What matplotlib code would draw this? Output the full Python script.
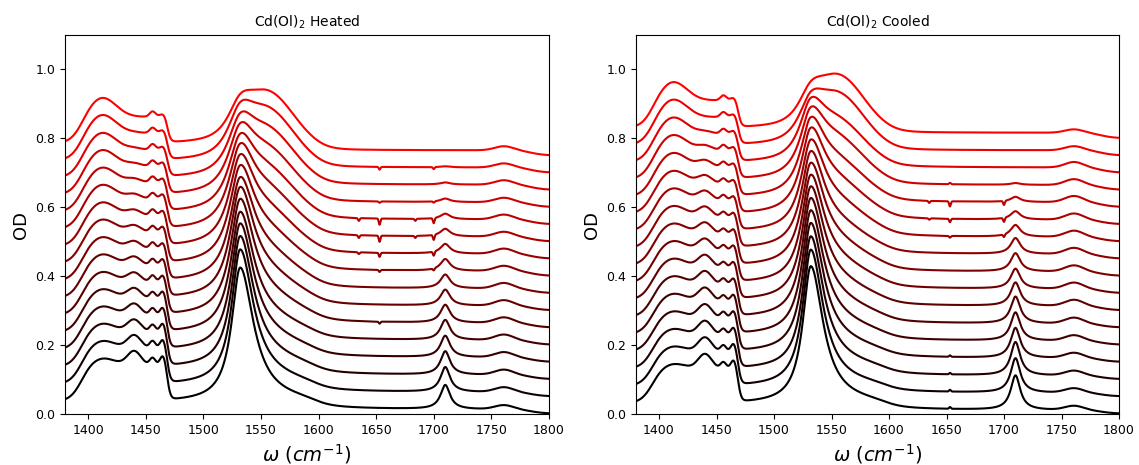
import numpy as np
import matplotlib
matplotlib.use("Agg")
import matplotlib.pyplot as plt

# ---------------------------------------------------------------------------
# FTIR spectra of Cd(Ol)2, stacked with a constant vertical offset.
# Each spectrum is described by the amplitudes (OD) of its absorption bands,
# listed from the bottom (black) trace to the top (red) trace.
# ---------------------------------------------------------------------------
wavenumber_min, wavenumber_max = 1380, 1800
offset_step = 0.05

# ---- heated series (16 spectra) ----
heated_background = [0.035, 0.035, 0.035, 0.035, 0.035, 0.035, 0.035, 0.035,
                     0.035, 0.035, 0.035, 0.035, 0.035, 0.035, 0.035, 0.035]
heated_plateau = [0.100, 0.099, 0.097, 0.095, 0.093, 0.091, 0.090, 0.088,
                  0.087, 0.085, 0.084, 0.082, 0.080, 0.078, 0.077, 0.075]
heated_band1410 = [0.026, 0.028, 0.030, 0.032, 0.034, 0.036, 0.038, 0.040,
                   0.042, 0.044, 0.046, 0.048, 0.051, 0.053, 0.056, 0.058]
heated_band1440 = [0.043, 0.040, 0.037, 0.035, 0.032, 0.029, 0.026, 0.023,
                   0.020, 0.017, 0.014, 0.011, 0.008, 0.005, 0.002, 0.000]
heated_band1456 = [0.022, 0.022, 0.021, 0.021, 0.020, 0.020, 0.019, 0.019,
                   0.018, 0.018, 0.017, 0.017, 0.016, 0.016, 0.015, 0.015]
heated_band1465 = [0.030, 0.028, 0.027, 0.025, 0.024, 0.022, 0.021, 0.019,
                   0.018, 0.016, 0.015, 0.013, 0.012, 0.010, 0.009, 0.008]
heated_band1532 = [0.390, 0.391, 0.378, 0.363, 0.345, 0.329, 0.310, 0.285,
                   0.266, 0.244, 0.222, 0.197, 0.174, 0.150, 0.128, 0.100]
heated_hwhm_low = [9.0, 9.0, 9.3, 9.6, 10.0, 10.3, 10.6, 11.0,
                   11.4, 11.8, 12.2, 12.6, 13.0, 13.4, 13.8, 14.0]
heated_hwhm_high = [14.0, 14.0, 14.1, 14.3, 14.4, 14.6, 14.7, 14.9,
                    15.0, 15.2, 15.3, 15.5, 15.6, 15.8, 15.9, 16.0]
heated_band1558 = [0.000, 0.005, 0.010, 0.015, 0.020, 0.030, 0.040, 0.050,
                   0.060, 0.070, 0.080, 0.090, 0.100, 0.110, 0.120, 0.125]
heated_flat = [0.012, 0.012, 0.012, 0.013, 0.013, 0.013, 0.013, 0.013,
               0.014, 0.014, 0.014, 0.014, 0.014, 0.015, 0.015, 0.015]
heated_band1710 = [0.070, 0.072, 0.068, 0.062, 0.058, 0.052, 0.046, 0.040,
                   0.034, 0.028, 0.022, 0.016, 0.010, 0.006, 0.003, 0.000]
heated_band1760 = [0.012, 0.014, 0.015, 0.015, 0.016, 0.016, 0.016, 0.016,
                   0.015, 0.015, 0.014, 0.014, 0.013, 0.013, 0.012, 0.012]
heated_vapour1635 = [0, 0, 0, 0, 0, 0, 0, 0,
                     0, -0.005, -0.008, -0.008, 0, 0, 0, 0]
heated_vapour1653 = [0, 0, 0, 0, 0, -0.006, 0, 0,
                     -0.006, -0.012, -0.018, -0.018, -0.004, 0, -0.008, 0]
heated_vapour1684 = [0, 0, 0, 0, 0, 0, 0, 0,
                     0, 0, -0.006, -0.006, 0, 0, 0, 0]
heated_vapour1700 = [0, 0, 0, 0, 0, 0, 0, 0,
                     -0.006, -0.012, -0.015, -0.015, -0.004, 0, -0.006, 0]

# ---- cooled series (17 spectra) ----
cooled_background = [0.030, 0.030, 0.030, 0.030, 0.030, 0.030, 0.030, 0.030, 0.030,
                     0.030, 0.030, 0.030, 0.030, 0.030, 0.030, 0.030, 0.030]
cooled_plateau = [0.095, 0.094, 0.093, 0.092, 0.091, 0.090, 0.089, 0.088, 0.087,
                  0.086, 0.085, 0.084, 0.083, 0.082, 0.080, 0.079, 0.078]
cooled_band1410 = [0.020, 0.022, 0.024, 0.026, 0.028, 0.030, 0.032, 0.034, 0.036,
                   0.038, 0.040, 0.042, 0.045, 0.048, 0.051, 0.054, 0.056]
cooled_band1440 = [0.045, 0.044, 0.043, 0.042, 0.041, 0.040, 0.038, 0.036, 0.034,
                   0.031, 0.028, 0.024, 0.019, 0.013, 0.007, 0.000, 0.000]
cooled_band1456 = [0.020, 0.020, 0.019, 0.019, 0.018, 0.018, 0.017, 0.017, 0.016,
                   0.016, 0.016, 0.015, 0.015, 0.015, 0.014, 0.014, 0.014]
cooled_band1465 = [0.028, 0.027, 0.025, 0.024, 0.023, 0.021, 0.020, 0.019, 0.017,
                   0.016, 0.015, 0.013, 0.012, 0.011, 0.010, 0.009, 0.008]
cooled_band1532 = [0.399, 0.397, 0.384, 0.371, 0.356, 0.340, 0.322, 0.304, 0.287,
                   0.269, 0.249, 0.230, 0.207, 0.181, 0.156, 0.113, 0.090]
cooled_hwhm_low = [8.5, 8.5, 8.6, 8.8, 9.0, 9.2, 9.4, 9.6, 9.8,
                   10.0, 10.3, 10.6, 11.0, 11.5, 12.0, 13.5, 14.0]
cooled_hwhm_high = [13.0, 13.0, 13.2, 13.4, 13.6, 13.8, 14.0, 14.2, 14.4,
                    14.6, 14.8, 15.0, 15.2, 15.5, 15.8, 16.0, 16.0]
cooled_band1558 = [0.000, 0.000, 0.005, 0.010, 0.015, 0.020, 0.025, 0.030, 0.035,
                   0.040, 0.050, 0.060, 0.070, 0.085, 0.090, 0.122, 0.130]
cooled_flat = [0.010, 0.010, 0.010, 0.011, 0.011, 0.011, 0.012, 0.012, 0.012,
               0.013, 0.013, 0.013, 0.014, 0.014, 0.015, 0.015, 0.016]
cooled_band1710 = [0.100, 0.100, 0.097, 0.087, 0.082, 0.078, 0.068, 0.058, 0.053,
                   0.046, 0.034, 0.024, 0.015, 0.005, 0.000, 0.000, 0.000]
cooled_band1760 = [0.012, 0.013, 0.014, 0.015, 0.016, 0.017, 0.018, 0.018, 0.018,
                   0.018, 0.018, 0.018, 0.018, 0.017, 0.016, 0.012, 0.010]
cooled_vapour1635 = [0, 0, 0, 0, 0, 0, 0, 0, 0,
                     0, 0, -0.004, -0.006, 0, 0, 0, 0]
cooled_vapour1653 = [0.005, 0.005, 0.004, 0.004, 0, 0, 0, 0, 0,
                     0, -0.005, -0.010, -0.015, 0.004, 0, 0, 0]
cooled_vapour1684 = [0, 0, 0, 0, 0, 0, 0, 0, 0,
                     0, 0, 0, 0, 0, 0, 0, 0]
cooled_vapour1700 = [0, 0, 0, 0, 0, 0, 0, 0, 0,
                     0, -0.008, -0.012, -0.012, 0, 0, 0, 0]

panel_titles = [r"Cd(Ol)$_2$ Heated", r"Cd(Ol)$_2$ Cooled"]
x_label = r"$\omega$ $(cm^{-1})$"
y_label = "OD"
x_ticks = [1400, 1450, 1500, 1550, 1600, 1650, 1700, 1750, 1800]
y_ticks = [0.0, 0.2, 0.4, 0.6, 0.8, 1.0]


def sigmoid(z):
    return 1.0 / (1.0 + np.exp(-z))


def gauss(x, centre, sigma):
    return np.exp(-0.5 * ((x - centre) / sigma) ** 2)


def lorentz(x, centre, hwhm):
    return 1.0 / (1.0 + ((x - centre) / hwhm) ** 2)


def split_lorentz(x, centre, hwhm_low, hwhm_high):
    hwhm = np.where(x < centre, hwhm_low, hwhm_high)
    return 1.0 / (1.0 + ((x - centre) / hwhm) ** 2)


def split_gauss(x, centre, sigma_low, sigma_high):
    sigma = np.where(x < centre, sigma_low, sigma_high)
    return np.exp(-0.5 * ((x - centre) / sigma) ** 2)


def build_spectrum(x, k, s):
    """Sum of the baseline and absorption bands of spectrum k of series s."""
    flat = s["flat"][k]
    y = flat * sigmoid((1785 - x) / 6.0)
    y += (s["background"][k] - flat) * sigmoid((1597 - x) / 7.0)
    y += s["plateau"][k] * sigmoid((x - 1394) / 5.0) * sigmoid((1469.0 - x) / 1.4)
    y += s["band1410"][k] * gauss(x, 1412, 12)
    y += s["band1440"][k] * gauss(x, 1440, 6)
    y += s["band1456"][k] * gauss(x, 1456, 2.5)
    y += s["band1465"][k] * gauss(x, 1465, 2.5)
    y += s["band1532"][k] * split_lorentz(x, 1532, s["hwhm_low"][k], s["hwhm_high"][k])
    y += s["band1558"][k] * split_gauss(x, 1558, 18, 20)
    y += s["band1710"][k] * lorentz(x, 1710, 5)
    y += s["band1760"][k] * gauss(x, 1761, 8)
    for pos, key in ((1635, "v1635"), (1653, "v1653"), (1684, "v1684"), (1700, "v1700")):
        y += s[key][k] * gauss(x, pos, 0.7)
    return y


heated = dict(background=heated_background, plateau=heated_plateau,
              band1410=heated_band1410, band1440=heated_band1440,
              band1456=heated_band1456, band1465=heated_band1465,
              band1532=heated_band1532, hwhm_low=heated_hwhm_low,
              hwhm_high=heated_hwhm_high, band1558=heated_band1558,
              flat=heated_flat, band1710=heated_band1710, band1760=heated_band1760,
              v1635=heated_vapour1635, v1653=heated_vapour1653,
              v1684=heated_vapour1684, v1700=heated_vapour1700)
cooled = dict(background=cooled_background, plateau=cooled_plateau,
              band1410=cooled_band1410, band1440=cooled_band1440,
              band1456=cooled_band1456, band1465=cooled_band1465,
              band1532=cooled_band1532, hwhm_low=cooled_hwhm_low,
              hwhm_high=cooled_hwhm_high, band1558=cooled_band1558,
              flat=cooled_flat, band1710=cooled_band1710, band1760=cooled_band1760,
              v1635=cooled_vapour1635, v1653=cooled_vapour1653,
              v1684=cooled_vapour1684, v1700=cooled_vapour1700)

wavenumber = np.arange(wavenumber_min, wavenumber_max + 0.01, 0.25)

fig = plt.figure(figsize=(11.39, 4.65), dpi=100)
ax_left = fig.add_axes([65 / 1139, 1 - 414 / 465, 484 / 1139, 379 / 465])
ax_right = fig.add_axes([636 / 1139, 1 - 414 / 465, 483 / 1139, 379 / 465])

for ax, series, title in ((ax_left, heated, panel_titles[0]),
                          (ax_right, cooled, panel_titles[1])):
    n = len(series["band1532"])
    for k in range(n):
        frac = k / (n - 1)
        od = build_spectrum(wavenumber, k, series) + k * offset_step
        ax.plot(wavenumber, od, color=(frac, 0.0, 0.0), lw=1.5)
    ax.set_xlim(wavenumber_min, wavenumber_max)
    ax.set_ylim(0, 1.1)
    ax.set_xticks(x_ticks)
    ax.set_yticks(y_ticks)
    ax.tick_params(labelsize=9)
    ax.set_title(title, fontsize=10)
    ax.set_xlabel(x_label, fontsize=14)
    ax.set_ylabel(y_label, fontsize=13)

fig.savefig("out.png", dpi=100)
